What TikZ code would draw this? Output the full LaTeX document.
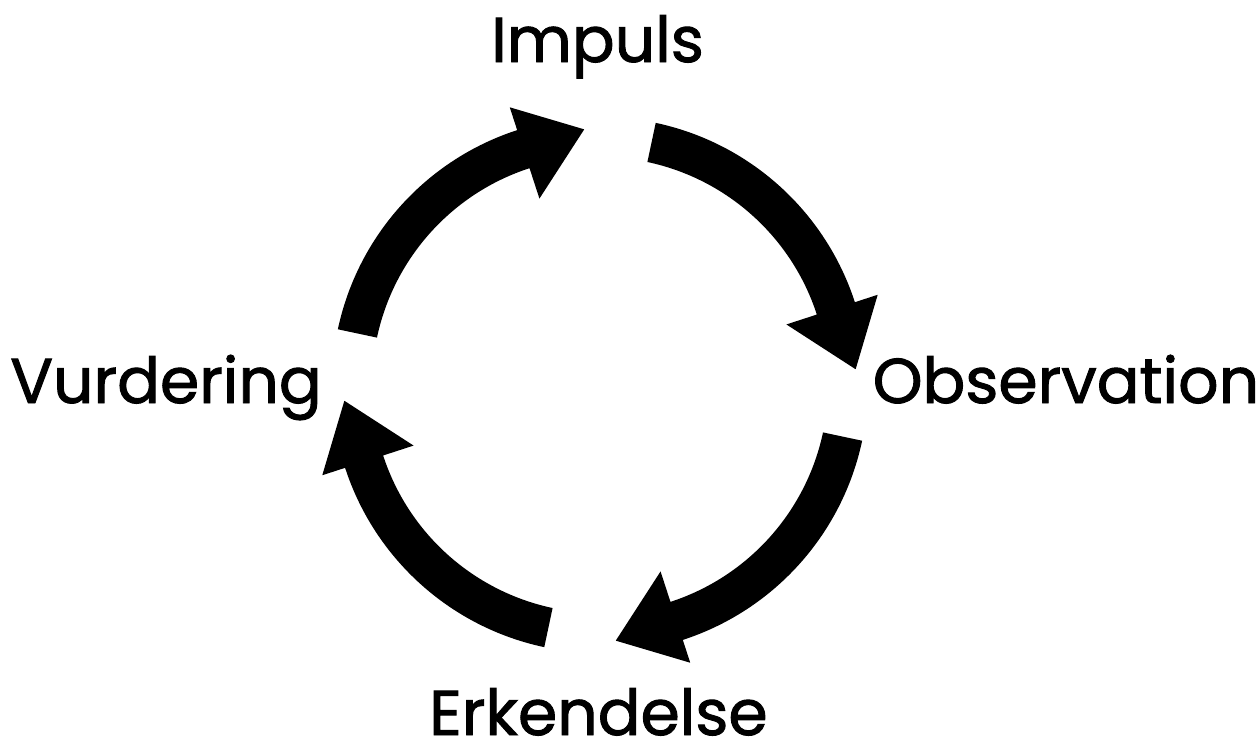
\documentclass[tikz,border=0pt]{standalone}
\usepackage{fontspec}
\setmainfont{Poppins}[FakeBold=1.5]
\usetikzlibrary{calc}
\def\cyclearrow(#1:#2){\fill[line join=round] (#1:268) arc (#1:#2:268) -- (#2:292) -- ($(#2:248)+({#2-90}:64)$) -- (#2:196) -- (#2:228) arc (#2:#1:228) -- cycle;}
\tikzset{phase/.style={anchor=base, inner sep=0pt, font=\fontsize{18}{20}\selectfont}}

\begin{document}
\begin{tikzpicture}[x=0.01cm, y=0.01cm]
			%%%%% START %%%%%
			\useasboundingbox (-600, -356) rectangle (660, 385);
			
			\node[phase] (impuls) at (-2.5, 323) {Impuls};
			\node[phase] (observation) at (466, -18) {Observation};
			\node[phase] (erkendelse) at (-1.5, -350) {Erkendelse};
			\node[phase] (vurdering) at (-434, -18) {Vurdering};
			
			\cyclearrow(78:18);
			\cyclearrow(-12:-72);
			\cyclearrow(-102:-162);
			\cyclearrow(168:108);
			%%%%% END %%%%%
		\end{tikzpicture}
\end{document}
